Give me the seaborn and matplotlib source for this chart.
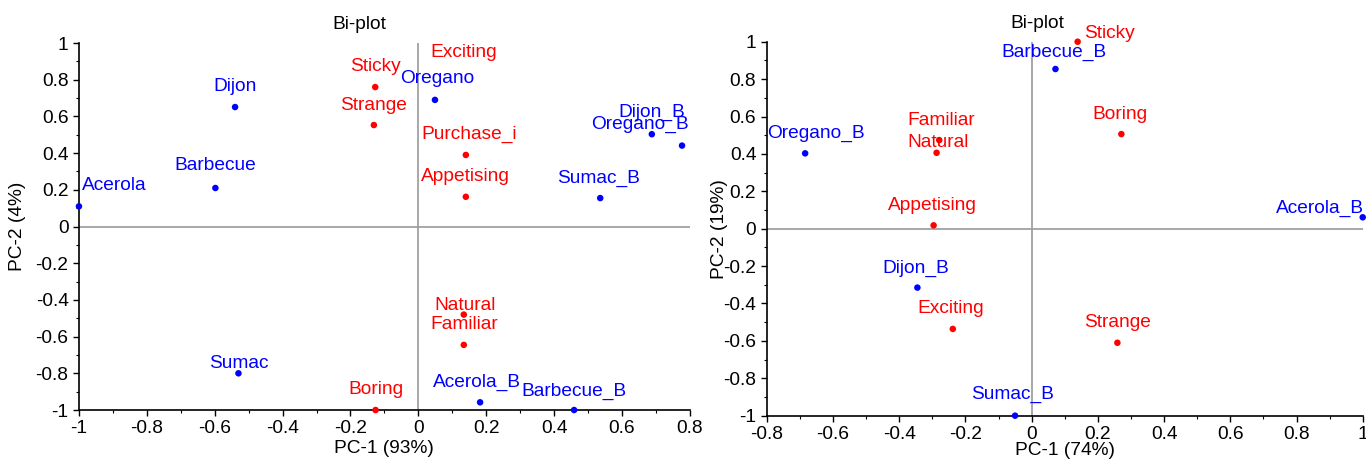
import pandas as pd
import numpy as np
import seaborn as sns
import matplotlib.pyplot as plt
from matplotlib.ticker import MultipleLocator, FuncFormatter

# Left bi-plot: PC-1 (93%) vs PC-2 (4%)
left_names = ['Acerola', 'Barbecue', 'Dijon', 'Oregano', 'Dijon_B', 'Oregano_B', 'Sumac_B',
              'Sumac', 'Acerola_B', 'Barbecue_B',
              'Sticky', 'Strange', 'Exciting', 'Purchase_i', 'Appetising', 'Natural', 'Familiar', 'Boring']
left_pc1 = [-1.0, -0.598, -0.54, 0.049, 0.688, 0.777, 0.536, -0.53, 0.182, 0.459,
            -0.127, -0.131, 0.137, 0.14, 0.14, 0.134, 0.134, -0.126]
left_pc2 = [0.11, 0.21, 0.651, 0.69, 0.503, 0.441, 0.155, -0.80, -0.958, -1.0,
            0.76, 0.553, 0.95, 0.39, 0.162, -0.48, -0.645, -1.0]
left_kind = ['sample'] * 10 + ['attribute'] * 8

# Right bi-plot: PC-1 (74%) vs PC-2 (19%)
right_names = ['Barbecue_B', 'Oregano_B', 'Acerola_B', 'Dijon_B', 'Sumac_B',
               'Sticky', 'Boring', 'Familiar', 'Natural', 'Appetising', 'Exciting', 'Strange']
right_pc1 = [0.072, -0.684, 1.0, -0.345, -0.05,
             0.139, 0.271, -0.279, -0.287, -0.296, -0.238, 0.259]
right_pc2 = [0.854, 0.403, 0.061, -0.315, -1.0,
             1.0, 0.506, 0.474, 0.406, 0.018, -0.536, -0.61]
right_kind = ['sample'] * 5 + ['attribute'] * 7

colors = {'sample': '#0000ff', 'attribute': '#ff0000'}

# label placement (pixel offsets from the point, horizontal alignment)
left_offsets = {'Acerola': (3, 21, 'left'), 'Barbecue': (0, 22, 'center'), 'Dijon': (0, 21, 'center'),
                'Oregano': (2, 21, 'center'), 'Dijon_B': (0, 22, 'center'), 'Oregano_B': (-42, 21, 'center'),
                'Sumac_B': (-2, 20, 'center'), 'Sumac': (0, 10, 'center'), 'Acerola_B': (-3, 20, 'center'),
                'Barbecue_B': (0, 19, 'center'), 'Sticky': (0, 21, 'center'), 'Strange': (0, 20, 'center'),
                'Exciting': (-1, 0, 'center'), 'Purchase_i': (3, 21, 'center'), 'Appetising': (0, 20, 'center'),
                'Natural': (1, 9, 'center'), 'Familiar': (0, 20, 'center'), 'Boring': (0, 21, 'center')}
right_offsets = {'Barbecue_B': (-2, 17, 'center'), 'Oregano_B': (11, 20, 'center'), 'Acerola_B': (1, 9, 'right'),
                 'Dijon_B': (-2, 19, 'center'), 'Sumac_B': (-3, 21, 'center'), 'Sticky': (6, 8, 'left'),
                 'Boring': (-1, 20, 'center'), 'Familiar': (2, 20, 'center'), 'Natural': (1, 10, 'center'),
                 'Appetising': (-1, 20, 'center'), 'Exciting': (-2, 20, 'center'), 'Strange': (0, 20, 'center')}
# labels drawn on a white box (the marker sits under its own label)
boxed = {('left', 'Exciting')}

sns.set_style('white')
plt.rcParams['font.family'] = ['Liberation Sans', 'DejaVu Sans']
plt.rcParams['axes.unicode_minus'] = False
plt.rcParams['text.color'] = 'black'
plt.rcParams['axes.labelcolor'] = 'black'
fs = 13.8

fig = plt.figure(figsize=(13.66, 4.61), dpi=100)
ax1 = fig.add_axes([0.0578, 0.1106, 0.4472, 0.7961])
ax2 = fig.add_axes([0.5613, 0.0983, 0.4363, 0.8112])


def biplot(ax, side, names, pc1, pc2, kind, offsets, xlim, xlabel, ylabel, title_x, ylab_x, xlab_y):
    df = pd.DataFrame({'name': names, 'pc1': pc1, 'pc2': pc2, 'kind': kind})
    ax.axhline(0, color='#9a9a9a', lw=1.2, zorder=0)
    ax.axvline(0, color='#9a9a9a', lw=1.2, zorder=0)
    sns.scatterplot(data=df, x='pc1', y='pc2', hue='kind', palette=colors, s=22,
                    edgecolor='none', legend=False, ax=ax, clip_on=False, zorder=3)
    for _, r in df.iterrows():
        dx, dy, ha = offsets[r['name']]
        box = dict(fc='white', ec='none', pad=0) if (side, r['name']) in boxed else None
        ax.annotate(r['name'], (r['pc1'], r['pc2']), xytext=(dx, dy), textcoords='offset pixels',
                    ha=ha, va='center', color=colors[r['kind']], fontsize=fs, zorder=4, bbox=box)
    ax.set_xlim(*xlim)
    ax.set_ylim(-1, 1)
    ax.xaxis.set_major_locator(MultipleLocator(0.2))
    ax.xaxis.set_minor_locator(MultipleLocator(0.1))
    ax.yaxis.set_major_locator(MultipleLocator(0.2))
    ax.yaxis.set_minor_locator(MultipleLocator(0.1))
    fmt = FuncFormatter(lambda v, p: '%g' % round(v, 2))
    ax.xaxis.set_major_formatter(fmt)
    ax.yaxis.set_major_formatter(fmt)
    ax.tick_params(which='major', direction='out', length=4, width=1, pad=3.5,
                   labelsize=fs, colors='black', bottom=True, left=True)
    ax.tick_params(which='minor', direction='out', length=2.5, width=0.8, colors='black',
                   bottom=True, left=True)
    for s in ['top', 'right']:
        ax.spines[s].set_visible(False)
    for s in ['left', 'bottom']:
        ax.spines[s].set_color('black')
        ax.spines[s].set_linewidth(1.2)
    ax.set_xlabel(xlabel, fontsize=fs, va='center', color='black')
    ax.set_ylabel(ylabel, fontsize=fs, va='center', color='black')
    ax.xaxis.set_label_coords(0.5, xlab_y)
    ax.yaxis.set_label_coords(ylab_x, 0.5)
    ax.set_title('Bi-plot', x=title_x, pad=9.8, fontsize=fs, color='black')


biplot(ax1, 'left', left_names, left_pc1, left_pc2, left_kind, left_offsets, (-1, 0.8),
       'PC-1 (93%)', 'PC-2 (4%)', 0.459, -0.1, -0.104)
biplot(ax2, 'right', right_names, right_pc1, right_pc2, right_kind, right_offsets, (-0.8, 1),
       'PC-1 (74%)', 'PC-2 (19%)', 0.454, -0.08, -0.092)

plt.savefig('out.png', dpi=100)
